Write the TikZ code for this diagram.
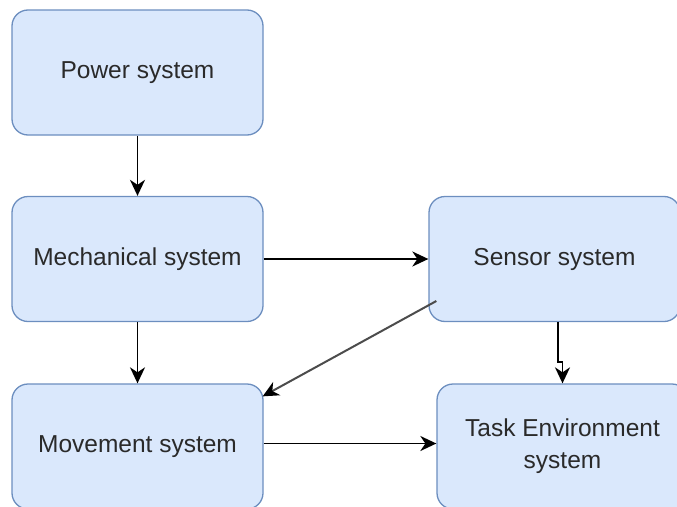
\documentclass[tikz,border=0pt]{standalone}
\usepackage{fontspec}
\setmainfont{Liberation Sans}
\usetikzlibrary{arrows.meta,positioning}
\definecolor{boxfill}{HTML}{DAE8FC}
\definecolor{boxdraw}{HTML}{6C8EBF}
\definecolor{txt}{HTML}{2A2A2A}
\tikzset{
  sysbox/.style={draw=boxdraw, fill=boxfill, line width=1.3pt, rounded corners=16pt,
    minimum width=251pt, minimum height=125pt, inner sep=0pt, align=center,
    text=txt, font=\fontsize{24.5}{32}\selectfont},
  arr/.style={draw=black, line width=1.9pt, -{Stealth[length=16pt,width=15pt,inset=5pt]}},
  garr/.style={draw=black!70, line width=2pt, -{Stealth[length=16pt,width=15pt,inset=5pt,color=black]}}
}
\begin{document}
\begin{tikzpicture}[x=1pt,y=-1pt]
\useasboundingbox (0,0) rectangle (677,506);
\node[sysbox] (pow) at (137.5,72.5) {Power system};
\node[sysbox] (mech) at (137.5,259) {Mechanical system};
\node[sysbox] (sens) at (554.5,259) {Sensor system};
\node[sysbox] (mov) at (137.5,446.5) {Movement system};
\node[sysbox] (task) at (562.5,446.5) {Task Environment\\system};
\draw[arr] (pow) -- (mech);
\draw[arr] (mech) -- (mov);
\draw[arr] (mech) -- (sens);
\draw[arr] ([yshift=3pt]mov.east) -- ([yshift=3pt]mov.east -| task.west);
\draw[arr] ([xshift=3.5pt]sens.south) -- ++(0,40) -| (task.north);
\draw[garr] ([xshift=8pt,yshift=-42pt]sens.west) -- ([xshift=-1pt,yshift=-13pt]mov.north east);
\end{tikzpicture}
\end{document}
